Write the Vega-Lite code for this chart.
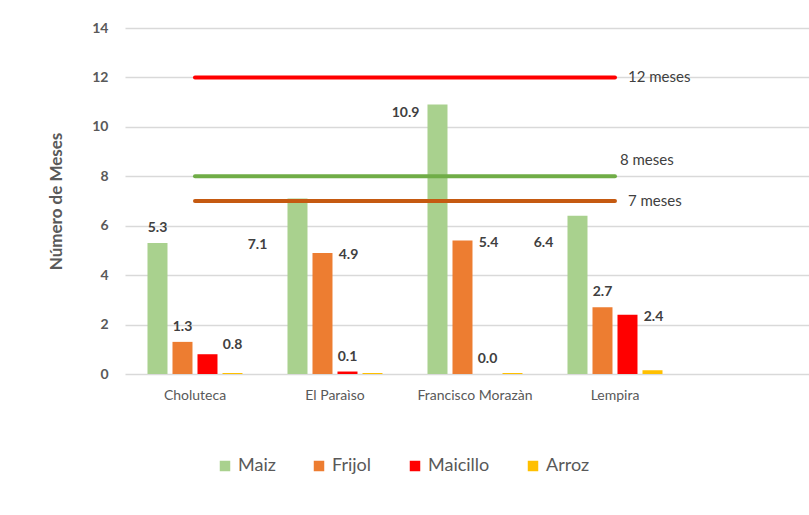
{
  "$schema": "https://vega.github.io/schema/vega-lite/v6.json",
  "autosize": {"type": "none"},
  "padding": {"left": 125, "top": 28, "right": 0, "bottom": 141},
  "width": 684,
  "height": 346,
  "background": "white",
  "config": {
    "view": {"stroke": null},
    "font": "Lato",
    "axis": {"labelFont": "Lato", "titleFont": "Lato"},
    "legend": {"labelFont": "Lato"}
  },
  "datasets": {
    "cultivos": [
      {"depto": "Choluteca", "cultivo": "Maiz", "meses": 5.3},
      {"depto": "Choluteca", "cultivo": "Frijol", "meses": 1.3},
      {"depto": "Choluteca", "cultivo": "Maicillo", "meses": 0.8},
      {"depto": "Choluteca", "cultivo": "Arroz", "meses": 0.04},
      {"depto": "El Paraìso", "cultivo": "Maiz", "meses": 7.1},
      {"depto": "El Paraìso", "cultivo": "Frijol", "meses": 4.9},
      {"depto": "El Paraìso", "cultivo": "Maicillo", "meses": 0.1},
      {"depto": "El Paraìso", "cultivo": "Arroz", "meses": 0.04},
      {"depto": "Francisco Morazàn", "cultivo": "Maiz", "meses": 10.9},
      {"depto": "Francisco Morazàn", "cultivo": "Frijol", "meses": 5.4},
      {"depto": "Francisco Morazàn", "cultivo": "Maicillo", "meses": 0.0},
      {"depto": "Francisco Morazàn", "cultivo": "Arroz", "meses": 0.04},
      {"depto": "Lempira", "cultivo": "Maiz", "meses": 6.4},
      {"depto": "Lempira", "cultivo": "Frijol", "meses": 2.7},
      {"depto": "Lempira", "cultivo": "Maicillo", "meses": 2.4},
      {"depto": "Lempira", "cultivo": "Arroz", "meses": 0.15}
    ],
    "lineas": [
      {"linea": "12 meses", "valor": 12, "desde": "Choluteca", "hasta": "Lempira"},
      {"linea": "8 meses", "valor": 8, "desde": "Choluteca", "hasta": "Lempira"},
      {"linea": "7 meses", "valor": 7, "desde": "Choluteca", "hasta": "Lempira"}
    ]
  },
  "encoding": {
    "y": {
      "type": "quantitative",
      "scale": {"domain": [0, 14]},
      "axis": {
        "title": "Número de Meses",
        "values": [0, 2, 4, 6, 8, 10, 12, 14],
        "format": "d",
        "domain": false,
        "ticks": false,
        "labelPadding": 17,
        "labelFontSize": 14,
        "labelFontWeight": "bold",
        "labelColor": "#595959",
        "titleFontSize": 17,
        "titleFontWeight": "bold",
        "titleColor": "#595959",
        "titlePadding": 26,
        "gridColor": "#D9D9D9",
        "gridWidth": 1.3
      }
    }
  },
  "layer": [
    {
      "data": {"name": "cultivos"},
      "mark": {"type": "bar"},
      "encoding": {
        "x": {
          "field": "depto",
          "type": "nominal",
          "scale": {
            "domain": ["Choluteca", "El Paraìso", "Francisco Morazàn", "Lempira", " "],
            "paddingInner": 0.2857,
            "paddingOuter": 0.0857,
            "align": 0.833
          },
          "axis": {
            "title": null,
            "domain": false,
            "ticks": false,
            "labelAngle": 0,
            "labelPadding": 14,
            "labelFontSize": 14,
            "labelColor": "#595959"
          }
        },
        "xOffset": {
          "field": "cultivo",
          "type": "nominal",
          "scale": {"domain": ["Maiz", "Frijol", "Maicillo", "Arroz"], "paddingInner": 0.2, "paddingOuter": 0.1}
        },
        "y": {"field": "meses", "type": "quantitative"},
        "color": {
          "field": "cultivo",
          "type": "nominal",
          "scale": {
            "domain": ["Maiz", "Frijol", "Maicillo", "Arroz"],
            "range": ["#A9D18E", "#ED7D31", "#FF0000", "#FFC000"]
          },
          "legend": {
            "title": null,
            "orient": "none",
            "direction": "horizontal",
            "columns": 4,
            "legendX": 91,
            "legendY": 429,
            "symbolType": "square",
            "symbolSize": 110,
            "symbolStrokeWidth": 0,
            "labelFontSize": 18,
            "labelColor": "#595959",
            "labelOffset": 4,
            "columnPadding": 34,
            "padding": 0
          }
        }
      }
    },
    {
      "data": {"name": "cultivos"},
      "transform": [{"filter": "(datum.depto == 'Choluteca' && (datum.cultivo == 'Maiz' || datum.cultivo == 'Frijol')) || (datum.cultivo == 'Maicillo' && (datum.depto == 'El Paraìso' || datum.depto == 'Francisco Morazàn')) || (datum.depto == 'Lempira' && datum.cultivo == 'Frijol')"}],
      "mark": {"type": "text", "dy": -15, "fontSize": 14, "fontWeight": "bold", "color": "#404040"},
      "encoding": {
        "x": {"field": "depto", "type": "nominal"},
        "xOffset": {"field": "cultivo", "type": "nominal"},
        "y": {"field": "meses", "type": "quantitative"},
        "text": {"field": "meses", "type": "quantitative", "format": ".1f"}
      }
    },
    {
      "data": {"name": "cultivos"},
      "transform": [{"filter": "(datum.cultivo == 'Frijol' && (datum.depto == 'El Paraìso' || datum.depto == 'Francisco Morazàn')) || (datum.depto == 'Lempira' && datum.cultivo == 'Maicillo')"}],
      "mark": {"type": "text", "dx": 26, "dy": 2, "fontSize": 14, "fontWeight": "bold", "color": "#404040"},
      "encoding": {
        "x": {"field": "depto", "type": "nominal"},
        "xOffset": {"field": "cultivo", "type": "nominal"},
        "y": {"field": "meses", "type": "quantitative"},
        "text": {"field": "meses", "type": "quantitative", "format": ".1f"}
      }
    },
    {
      "data": {"name": "cultivos"},
      "transform": [{"filter": "datum.depto == 'Choluteca' && datum.cultivo == 'Maicillo'"}],
      "mark": {"type": "text", "dx": 25, "dy": -9, "fontSize": 14, "fontWeight": "bold", "color": "#404040"},
      "encoding": {
        "x": {"field": "depto", "type": "nominal"},
        "xOffset": {"field": "cultivo", "type": "nominal"},
        "y": {"field": "meses", "type": "quantitative"},
        "text": {"field": "meses", "type": "quantitative", "format": ".1f"}
      }
    },
    {
      "data": {"name": "cultivos"},
      "transform": [{"filter": "datum.depto == 'El Paraìso' && datum.cultivo == 'Maiz'"}],
      "mark": {"type": "text", "dx": -40, "dy": 46, "fontSize": 14, "fontWeight": "bold", "color": "#404040"},
      "encoding": {
        "x": {"field": "depto", "type": "nominal"},
        "xOffset": {"field": "cultivo", "type": "nominal"},
        "y": {"field": "meses", "type": "quantitative"},
        "text": {"field": "meses", "type": "quantitative", "format": ".1f"}
      }
    },
    {
      "data": {"name": "cultivos"},
      "transform": [{"filter": "datum.depto == 'Francisco Morazàn' && datum.cultivo == 'Maiz'"}],
      "mark": {"type": "text", "dx": -32, "dy": 8, "fontSize": 14, "fontWeight": "bold", "color": "#404040"},
      "encoding": {
        "x": {"field": "depto", "type": "nominal"},
        "xOffset": {"field": "cultivo", "type": "nominal"},
        "y": {"field": "meses", "type": "quantitative"},
        "text": {"field": "meses", "type": "quantitative", "format": ".1f"}
      }
    },
    {
      "data": {"name": "cultivos"},
      "transform": [{"filter": "datum.depto == 'Lempira' && datum.cultivo == 'Maiz'"}],
      "mark": {"type": "text", "dx": -34, "dy": 27, "fontSize": 14, "fontWeight": "bold", "color": "#404040"},
      "encoding": {
        "x": {"field": "depto", "type": "nominal"},
        "xOffset": {"field": "cultivo", "type": "nominal"},
        "y": {"field": "meses", "type": "quantitative"},
        "text": {"field": "meses", "type": "quantitative", "format": ".1f"}
      }
    },
    {
      "data": {"name": "lineas"},
      "mark": {"type": "rule", "strokeWidth": 4, "strokeCap": "round"},
      "encoding": {
        "x": {"field": "desde", "type": "nominal", "bandPosition": 0.5},
        "x2": {"field": "hasta", "bandPosition": 0.5},
        "y": {"field": "valor", "type": "quantitative"},
        "stroke": {
          "field": "linea",
          "type": "nominal",
          "scale": {"domain": ["12 meses", "8 meses", "7 meses"], "range": ["#FF0000", "#70AD47", "#C55A11"]},
          "legend": null
        }
      }
    },
    {
      "data": {"name": "lineas"},
      "transform": [{"filter": "datum.linea != '8 meses'"}],
      "mark": {"type": "text", "align": "left", "dx": 13, "fontSize": 15, "color": "#404040"},
      "encoding": {
        "x": {"field": "hasta", "type": "nominal", "bandPosition": 0.5},
        "y": {"field": "valor", "type": "quantitative"},
        "text": {"field": "linea"}
      }
    },
    {
      "data": {"name": "lineas"},
      "transform": [{"filter": "datum.linea == '8 meses'"}],
      "mark": {"type": "text", "align": "left", "dx": 5, "dy": -16, "fontSize": 15, "color": "#404040"},
      "encoding": {
        "x": {"field": "hasta", "type": "nominal", "bandPosition": 0.5},
        "y": {"field": "valor", "type": "quantitative"},
        "text": {"field": "linea"}
      }
    }
  ]
}
